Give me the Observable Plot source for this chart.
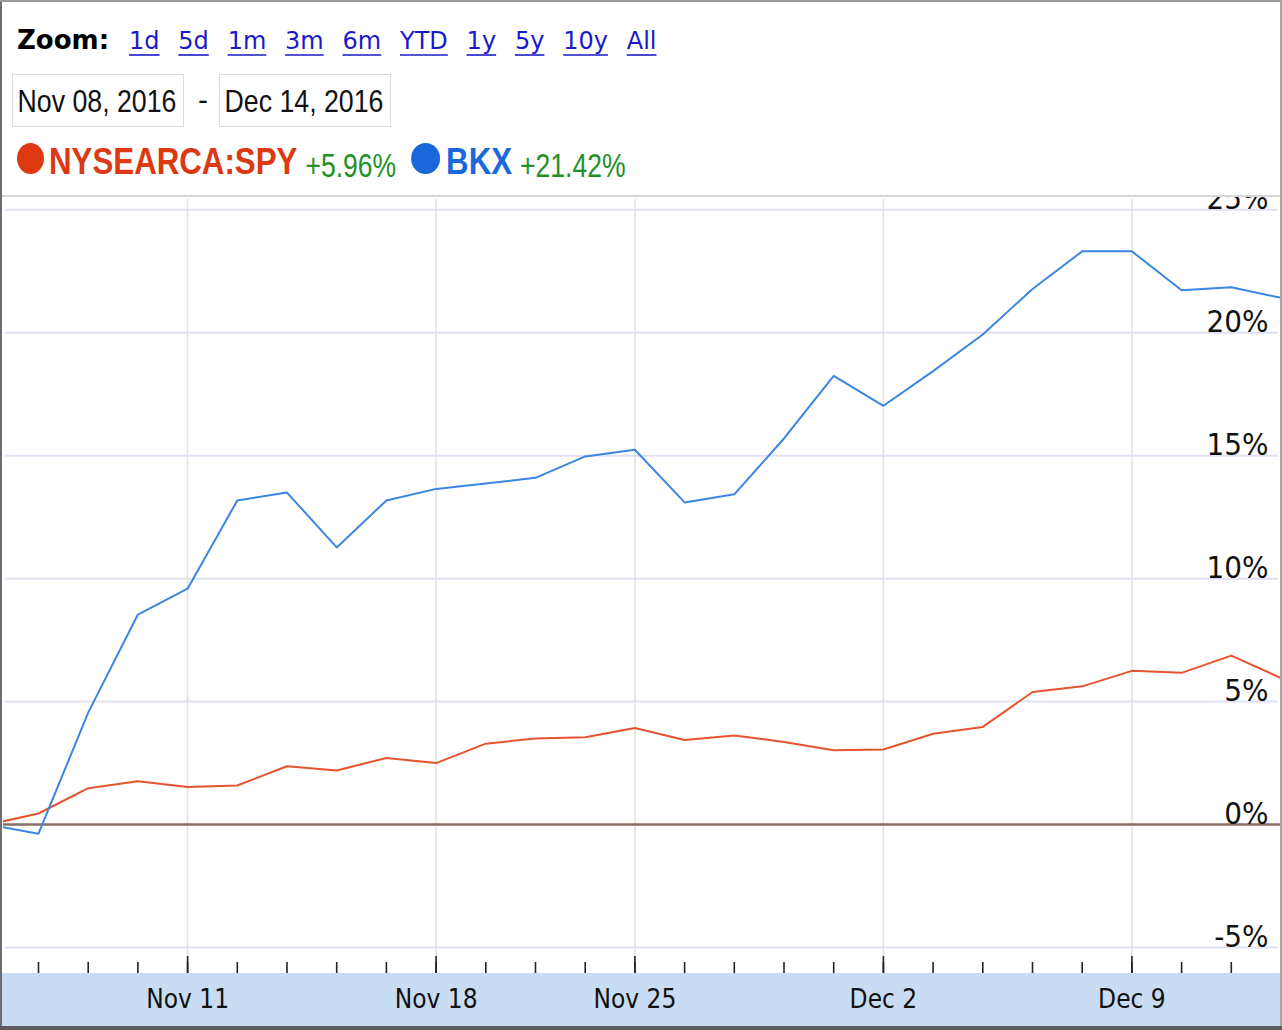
<!DOCTYPE html>
<html><head><meta charset="utf-8">
<script src="https://cdn.jsdelivr.net/npm/d3@7"></script>
<script src="https://cdn.jsdelivr.net/npm/@observablehq/plot@0.6"></script>
<style>
html,body{margin:0;padding:0;background:#fff;}
#wrap{position:relative;width:1282px;height:1030px;overflow:hidden;background:#fff;}
.abs{position:absolute;}
#header{position:absolute;left:0;top:0;}
#chart{position:absolute;left:0;top:197px;}
#chart svg{display:block;}
</style></head><body>
<div id="wrap">
  <div class="abs" style="left:2px;right:0;top:973px;height:54px;background:#c8ddf4;"></div>
  <div id="chart"></div>
  <svg id="header" width="1282" height="197"></svg>
  <div class="abs" style="left:0;right:0;top:195px;height:2px;background:#d6d6d6;"></div>
  <div class="abs" style="left:0;top:0;width:2px;height:1030px;background:#6e6e6e;"></div>
  <div class="abs" style="left:0;top:0;width:1282px;height:2px;background:#9c9c9c;"></div>
  <div class="abs" style="left:1280px;top:0;width:2px;height:1030px;background:#a8a8a8;"></div>
  <div class="abs" style="left:0;top:1026px;width:1282px;height:4px;background:#5c5c5c;"></div>
</div>
<script>
// ---------- data ----------
const zoomLabels = ["1d", "5d", "1m", "3m", "6m", "YTD", "1y", "5y", "10y", "All"];
const rangeLabels = ["Nov 08, 2016", "Dec 14, 2016"];
const seriesNames = ["NYSEARCA:SPY", "BKX"];
const seriesChanges = ["+5.96%", "+21.42%"];
const dates = ["Nov 7", "Nov 8", "Nov 9", "Nov 10", "Nov 11", "Nov 14", "Nov 15", "Nov 16", "Nov 17", "Nov 18",
  "Nov 21", "Nov 22", "Nov 23", "Nov 25", "Nov 28", "Nov 29", "Nov 30", "Dec 1", "Dec 2",
  "Dec 5", "Dec 6", "Dec 7", "Dec 8", "Dec 9", "Dec 12", "Dec 13", "Dec 14"];
const spy = [0, 0.45, 1.48, 1.76, 1.53, 1.59, 2.37, 2.2, 2.71, 2.5,
  3.29, 3.5, 3.55, 3.93, 3.44, 3.62, 3.36, 3.02, 3.05,
  3.69, 3.97, 5.39, 5.62, 6.25, 6.17, 6.87, 5.96];
const bkx = [0, -0.37, 4.55, 8.54, 9.59, 13.18, 13.5, 11.27, 13.18, 13.65,
  13.87, 14.1, 14.97, 15.24, 13.1, 13.43, 15.7, 18.25, 17.03,
  18.44, 19.93, 21.78, 23.31, 23.31, 21.73, 21.85, 21.42];
const weekLabels = ["Nov 11", "Nov 18", "Nov 25", "Dec 2", "Dec 9"];
const yTicks = [-5, 0, 5, 10, 15, 20, 25];

// ---------- styles ----------
const seriesColors = ["#dc3912", "#1a68dc"];
const lineColors = ["#e5542f", "#3a86e2"];
const changeColor = "#23902a";
const linkColor = "#1a1acb";
const condensed = '"DejaVu Sans Condensed", "DejaVu Sans", sans-serif';
const arial = '"Liberation Sans", Arial, sans-serif';

// ---------- header ----------
const hdr = d3.select("#header");
// squeezed text: horizontally scaled via transform so its box stays true
function squeezed(tx, ty, str, size, sx, attrs) {
  const g = hdr.append("g").attr("transform", `translate(${tx},${ty}) scale(${sx},1)`);
  const t = g.append("text").attr("x", 0).attr("y", 0)
    .attr("font-family", arial).attr("font-size", size).text(str);
  Object.entries(attrs || {}).forEach(([k, v]) => t.attr(k, v));
  return t.node().getComputedTextLength() * sx;
}
let x = 17;
hdr.append("text").attr("x", x).attr("y", 49)
  .attr("font-family", '"DejaVu Sans", sans-serif').attr("font-weight", "bold")
  .attr("font-size", 26).attr("fill", "#000").text("Zoom:");
x = 129;
zoomLabels.forEach(l => {
  const t = hdr.append("text").attr("x", x).attr("y", 49)
    .attr("font-family", '"DejaVu Sans", sans-serif').attr("font-size", 24)
    .attr("fill", linkColor).text(l);
  const w = t.node().getComputedTextLength();
  hdr.append("line").attr("x1", x).attr("x2", x + w).attr("y1", 55).attr("y2", 55)
    .attr("stroke", linkColor).attr("stroke-width", 1.6);
  x += w + 18.8;
});
// date range boxes
[12.5, 219.5].forEach((bx, k) => {
  hdr.append("rect").attr("x", bx).attr("y", 74.5).attr("width", 171).attr("height", 52)
    .attr("fill", "#fff").attr("stroke", "#dcdcdc");
  squeezed(bx + 5, 112, rangeLabels[k], 32, 0.835, {fill: "#111"});
});
hdr.append("text").attr("x", 198).attr("y", 110)
  .attr("font-family", arial).attr("font-size", 30)
  .attr("fill", "#111").text("-");
// legend
x = 17;
seriesNames.forEach((name, k) => {
  const rx = 13.5 + k;
  hdr.append("ellipse").attr("cx", x + rx).attr("cy", 158.5).attr("rx", rx).attr("ry", 15.5)
    .attr("fill", seriesColors[k]);
  x += 2 * rx + 5 + k;
  const w = squeezed(x, 174, name, 37, 0.845, {fill: seriesColors[k], "font-weight": "bold"});
  x += w + 8;
  const cw = squeezed(x, 177, seriesChanges[k], 34, 0.78, {fill: changeColor});
  x += cw + 15;
});

// ---------- chart ----------
const rows = [];
dates.forEach((d, i) => {
  rows.push({i, v: spy[i], s: seriesNames[0]});
  rows.push({i, v: bkx[i], s: seriesNames[1]});
});
const weekIdx = weekLabels.map(w => dates.indexOf(w));
const dayIdx = d3.range(1, dates.length - 1);
const W = 1282, H = 833, mT = 2, mB = 57, mL = 3, mR = 1;
const frameH = H - mT - mB;

const chart = Plot.plot({
  width: W, height: H,
  marginTop: mT, marginBottom: mB, marginLeft: mL, marginRight: mR,
  style: {background: "transparent", overflow: "hidden", fontFamily: condensed, fontStretch: "condensed"},
  x: {type: "linear", domain: [1, dates.length - 1], range: [38, 1280.5], label: null},
  y: {domain: [-5, 25], range: [750, 12.3], axis: null},
  color: {domain: seriesNames, range: lineColors},
  marks: [
    Plot.ruleY(yTicks.filter(t => t !== 0), {stroke: "#e0e0f5", strokeWidth: 2, insetLeft: 2, insetRight: 3}),
    Plot.ruleX(weekIdx, {stroke: "#dce3dc", strokeWidth: 1.5}),
    Plot.ruleY([0], {stroke: "#8c6b64", strokeWidth: 2.5}),
    Plot.ruleX(dayIdx, {stroke: "#222", strokeWidth: 1.6, insetTop: frameH - 11}),
    Plot.ruleX(weekIdx, {stroke: "#222", strokeWidth: 1.6, insetTop: frameH - 17}),
    Plot.line(rows, {x: "i", y: "v", z: "s", stroke: "s", strokeWidth: 2, clip: true}),
    Plot.text(yTicks, {y: d => d, text: d => `${d}%`, frameAnchor: "right", textAnchor: "end",
      lineAnchor: "bottom", dx: -13, dy: -1, fontSize: 31, fill: "#111"}),
    Plot.axisX(weekIdx, {tickFormat: i => dates[i], tickSize: 0, tickPadding: 16, fontSize: 26,
      fill: "#111", label: null})
  ]
});
document.getElementById("chart").appendChild(chart);
</script>
</body></html>
